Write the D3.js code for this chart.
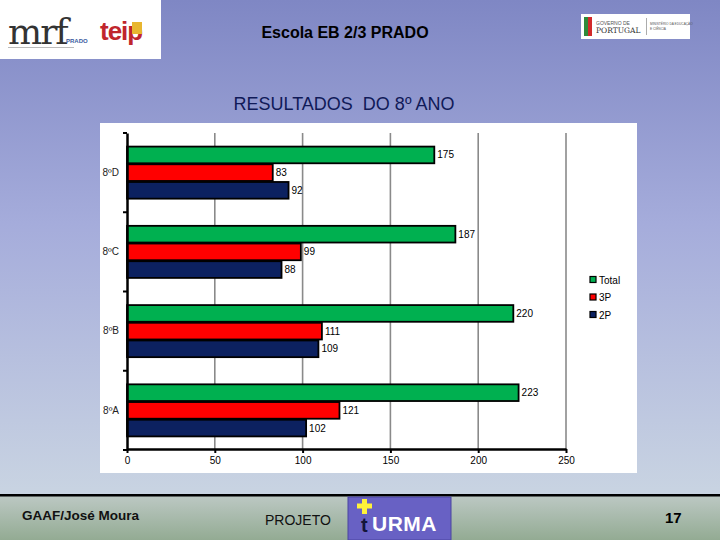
<!DOCTYPE html>
<html>
<head>
<meta charset="utf-8">
<script src="https://cdn.jsdelivr.net/npm/d3@7"></script>
<style>
  body { margin: 0; background: #fff; }
  svg { display: block; font-family: "Liberation Sans", Arial, sans-serif; }
</style>
</head>
<body>
<div id="slide"></div>
<script>
// data
const classes = ['8ºD', '8ºC', '8ºB', '8ºA'];
const total = [175, 187, 220, 223];
const p3 = [83, 99, 111, 121];
const p2 = [92, 88, 109, 102];
const seriesNames = ['Total', '3P', '2P'];
const xTicks = [0, 50, 100, 150, 200, 250];

const W = 720, H = 540;
const colors = { 'Total': '#00b050', '3P': '#ff0000', '2P': '#0c2160' };

const svg = d3.select('#slide')
    .append('svg')
    .attr('width', W)
    .attr('height', H);

const defs = svg.append('defs');

const bg = defs.append('linearGradient')
    .attr('id', 'bg')
    .attr('x1', 0).attr('y1', 0).attr('x2', 0).attr('y2', 1);
bg.append('stop').attr('offset', '0%').attr('stop-color', '#7f87c4');
bg.append('stop').attr('offset', '45%').attr('stop-color', '#a5acdb');
bg.append('stop').attr('offset', '100%').attr('stop-color', '#c9d4e2');

const foot = defs.append('linearGradient')
    .attr('id', 'foot')
    .attr('x1', 0).attr('y1', 0).attr('x2', 0).attr('y2', 1);
foot.append('stop').attr('offset', '0%').attr('stop-color', '#bcc8c3');
foot.append('stop').attr('offset', '100%').attr('stop-color', '#93ab93');

// background + footer
svg.append('rect').attr('width', W).attr('height', 496).attr('fill', 'url(#bg)');
svg.append('rect').attr('y', 496).attr('width', W).attr('height', 44).attr('fill', 'url(#foot)');
svg.append('rect').attr('y', 494).attr('width', W).attr('height', 2.5).attr('fill', '#000');

// header logos (rough)
const logo = svg.append('g');
logo.append('rect').attr('width', 161).attr('height', 59).attr('fill', '#fff');
logo.append('text').text('mrf')
    .attr('x', 8).attr('y', 44)
    .attr('font-family', '"DejaVu Serif", serif')
    .attr('font-size', 36).attr('fill', '#333')
    .attr('letter-spacing', -2);
logo.append('text').text('PRADO')
    .attr('x', 66).attr('y', 43)
    .attr('font-size', 6).attr('font-weight', 'bold').attr('fill', '#3a5aa0');
logo.append('rect').attr('x', 8).attr('y', 47).attr('width', 66).attr('height', 1).attr('fill', '#bbb');
logo.append('text').text('teip')
    .attr('x', 100).attr('y', 40)
    .attr('font-size', 26).attr('font-weight', 'bold')
    .attr('fill', '#c0262d').attr('letter-spacing', -1);
logo.append('rect').attr('x', 132).attr('y', 22).attr('width', 10).attr('height', 12).attr('fill', '#e8b630');

const gov = svg.append('g');
gov.append('rect').attr('x', 581).attr('y', 14).attr('width', 109).attr('height', 25).attr('fill', '#fff');
gov.append('rect').attr('x', 584).attr('y', 17).attr('width', 4).attr('height', 19).attr('fill', '#2f8a3a');
gov.append('rect').attr('x', 588).attr('y', 17).attr('width', 4).attr('height', 19).attr('fill', '#d22a2a');
gov.append('text').text('GOVERNO DE')
    .attr('x', 596).attr('y', 25).attr('font-size', 5).attr('fill', '#555');
gov.append('text').text('PORTUGAL')
    .attr('x', 596).attr('y', 33).attr('font-family', '"DejaVu Serif", serif')
    .attr('font-size', 7.5).attr('fill', '#333');
gov.append('rect').attr('x', 646).attr('y', 18).attr('width', 0.7).attr('height', 17).attr('fill', '#888');
gov.append('text').text('MINISTÉRIO DA EDUCAÇÃO')
    .attr('x', 650).attr('y', 25).attr('font-size', 3.2).attr('fill', '#555');
gov.append('text').text('E CIÊNCIA')
    .attr('x', 650).attr('y', 30).attr('font-size', 3.2).attr('fill', '#555');

// titles
svg.append('text').text('Escola EB 2/3 PRADO')
    .attr('x', 345).attr('y', 38)
    .attr('text-anchor', 'middle')
    .attr('font-size', 16).attr('font-weight', 'bold')
    .attr('fill', '#000');

svg.append('text').text('RESULTADOS  DO 8º ANO')
    .attr('x', 344).attr('y', 110)
    .attr('text-anchor', 'middle')
    .attr('font-size', 18)
    .attr('fill', '#101a58')
    .style('white-space', 'pre');

// chart box
svg.append('rect')
    .attr('x', 100).attr('y', 123)
    .attr('width', 537).attr('height', 350)
    .attr('fill', '#fff');

const x = d3.scaleLinear().domain([0, 250]).range([127, 566]);
const y = d3.scaleBand().domain(classes).range([133, 450]);
const yIn = d3.scaleBand().domain(seriesNames)
    .range([0, y.bandwidth()])
    .paddingInner(0)
    .paddingOuter(0.74);

const rows = classes.map((c, i) => ({
    cls: c,
    vals: [
        { s: 'Total', v: total[i] },
        { s: '3P', v: p3[i] },
        { s: '2P', v: p2[i] }
    ]
}));

// grid
svg.append('g')
    .selectAll('line')
    .data(xTicks.slice(1))
    .enter()
    .append('line')
    .attr('x1', d => x(d)).attr('x2', d => x(d))
    .attr('y1', 133).attr('y2', 449)
    .attr('stroke', '#8a8a8a')
    .attr('stroke-width', 1.6);

// bars
const grp = svg.append('g')
    .selectAll('g')
    .data(rows)
    .enter()
    .append('g')
    .attr('transform', d => `translate(0, ${y(d.cls)})`);

grp.selectAll('rect')
    .data(d => d.vals)
    .enter()
    .append('rect')
    .attr('x', x(0))
    .attr('y', d => yIn(d.s) + 0.5)
    .attr('width', d => x(d.v) - x(0))
    .attr('height', yIn.bandwidth() - 1)
    .attr('fill', d => colors[d.s])
    .attr('stroke', '#000')
    .attr('stroke-width', 1.8);

grp.selectAll('text')
    .data(d => d.vals)
    .enter()
    .append('text')
    .text(d => d.v)
    .attr('x', d => x(d.v) + 3)
    .attr('y', d => yIn(d.s) + yIn.bandwidth() / 2)
    .attr('dy', '0.35em')
    .attr('font-size', 10)
    .attr('fill', '#000');

// x axis
const xAxis = d3.axisBottom(x)
    .tickValues(xTicks)
    .tickSize(4)
    .tickSizeOuter(0)
    .tickPadding(4);

const gx = svg.append('g')
    .attr('transform', 'translate(0, 449)')
    .call(xAxis);
gx.select('.domain').attr('stroke', '#000').attr('stroke-width', 2.5);
gx.selectAll('.tick line').attr('stroke', '#000').attr('stroke-width', 2);
gx.selectAll('.tick text')
    .attr('font-family', '"Liberation Sans", Arial, sans-serif')
    .attr('font-size', 10)
    .attr('fill', '#000');

// y axis
const yAxis = d3.axisLeft(y).tickSize(0).tickPadding(8).tickSizeOuter(0);
const gy = svg.append('g')
    .attr('transform', 'translate(127, 0)')
    .call(yAxis);
gy.select('.domain').attr('stroke', '#000').attr('stroke-width', 2.5);
gy.selectAll('.tick text')
    .attr('font-family', '"Liberation Sans", Arial, sans-serif')
    .attr('font-size', 10)
    .attr('fill', '#222');

gy.selectAll('.bound')
    .data(classes.map(c => y(c)).concat([y.range()[1]]))
    .enter()
    .append('line')
    .attr('class', 'bound')
    .attr('x1', -4).attr('x2', 0)
    .attr('y1', d => d).attr('y2', d => d)
    .attr('stroke', '#000')
    .attr('stroke-width', 2);

// legend
const legend = svg.append('g')
    .attr('transform', 'translate(590, 280)');

legend.selectAll('g')
    .data(seriesNames)
    .enter()
    .append('g')
    .attr('transform', (d, i) => `translate(0, ${i * 17.5})`)
    .each(function (d) {
        const g = d3.select(this);
        g.append('rect')
            .attr('x', 0).attr('y', -3.5)
            .attr('width', 6).attr('height', 6)
            .attr('fill', colors[d])
            .attr('stroke', '#000')
            .attr('stroke-width', 1.2);
        g.append('text')
            .text(d)
            .attr('x', 9)
            .attr('dy', '0.35em')
            .attr('font-size', 10)
            .attr('fill', '#000');
    });

// footer
svg.append('text').text('GAAF/José Moura')
    .attr('x', 22).attr('y', 520)
    .attr('font-size', 13.5).attr('font-weight', 'bold')
    .attr('fill', '#111');

svg.append('text').text('PROJETO')
    .attr('x', 265).attr('y', 525)
    .attr('font-size', 14)
    .attr('fill', '#111');

svg.append('text').text('17')
    .attr('x', 665).attr('y', 523)
    .attr('font-size', 15).attr('font-weight', 'bold')
    .attr('fill', '#000');

const turma = svg.append('g');
turma.append('rect')
    .attr('x', 348).attr('y', 497)
    .attr('width', 103).attr('height', 43)
    .attr('fill', '#6861c4')
    .attr('stroke', '#4a44a0').attr('stroke-width', 1);
turma.append('rect').attr('x', 362).attr('y', 499).attr('width', 5).attr('height', 15).attr('fill', '#fff23a');
turma.append('rect').attr('x', 357).attr('y', 503.5).attr('width', 15).attr('height', 5).attr('fill', '#fff23a');
turma.append('text').text('t')
    .attr('x', 361).attr('y', 532)
    .attr('font-size', 20).attr('font-weight', 'bold')
    .attr('fill', '#14143a');
turma.append('text').text('URMA')
    .attr('x', 372).attr('y', 531)
    .attr('font-size', 21).attr('font-weight', 'bold')
    .attr('letter-spacing', 0.5)
    .attr('fill', '#fff');
</script>
</body>
</html>
